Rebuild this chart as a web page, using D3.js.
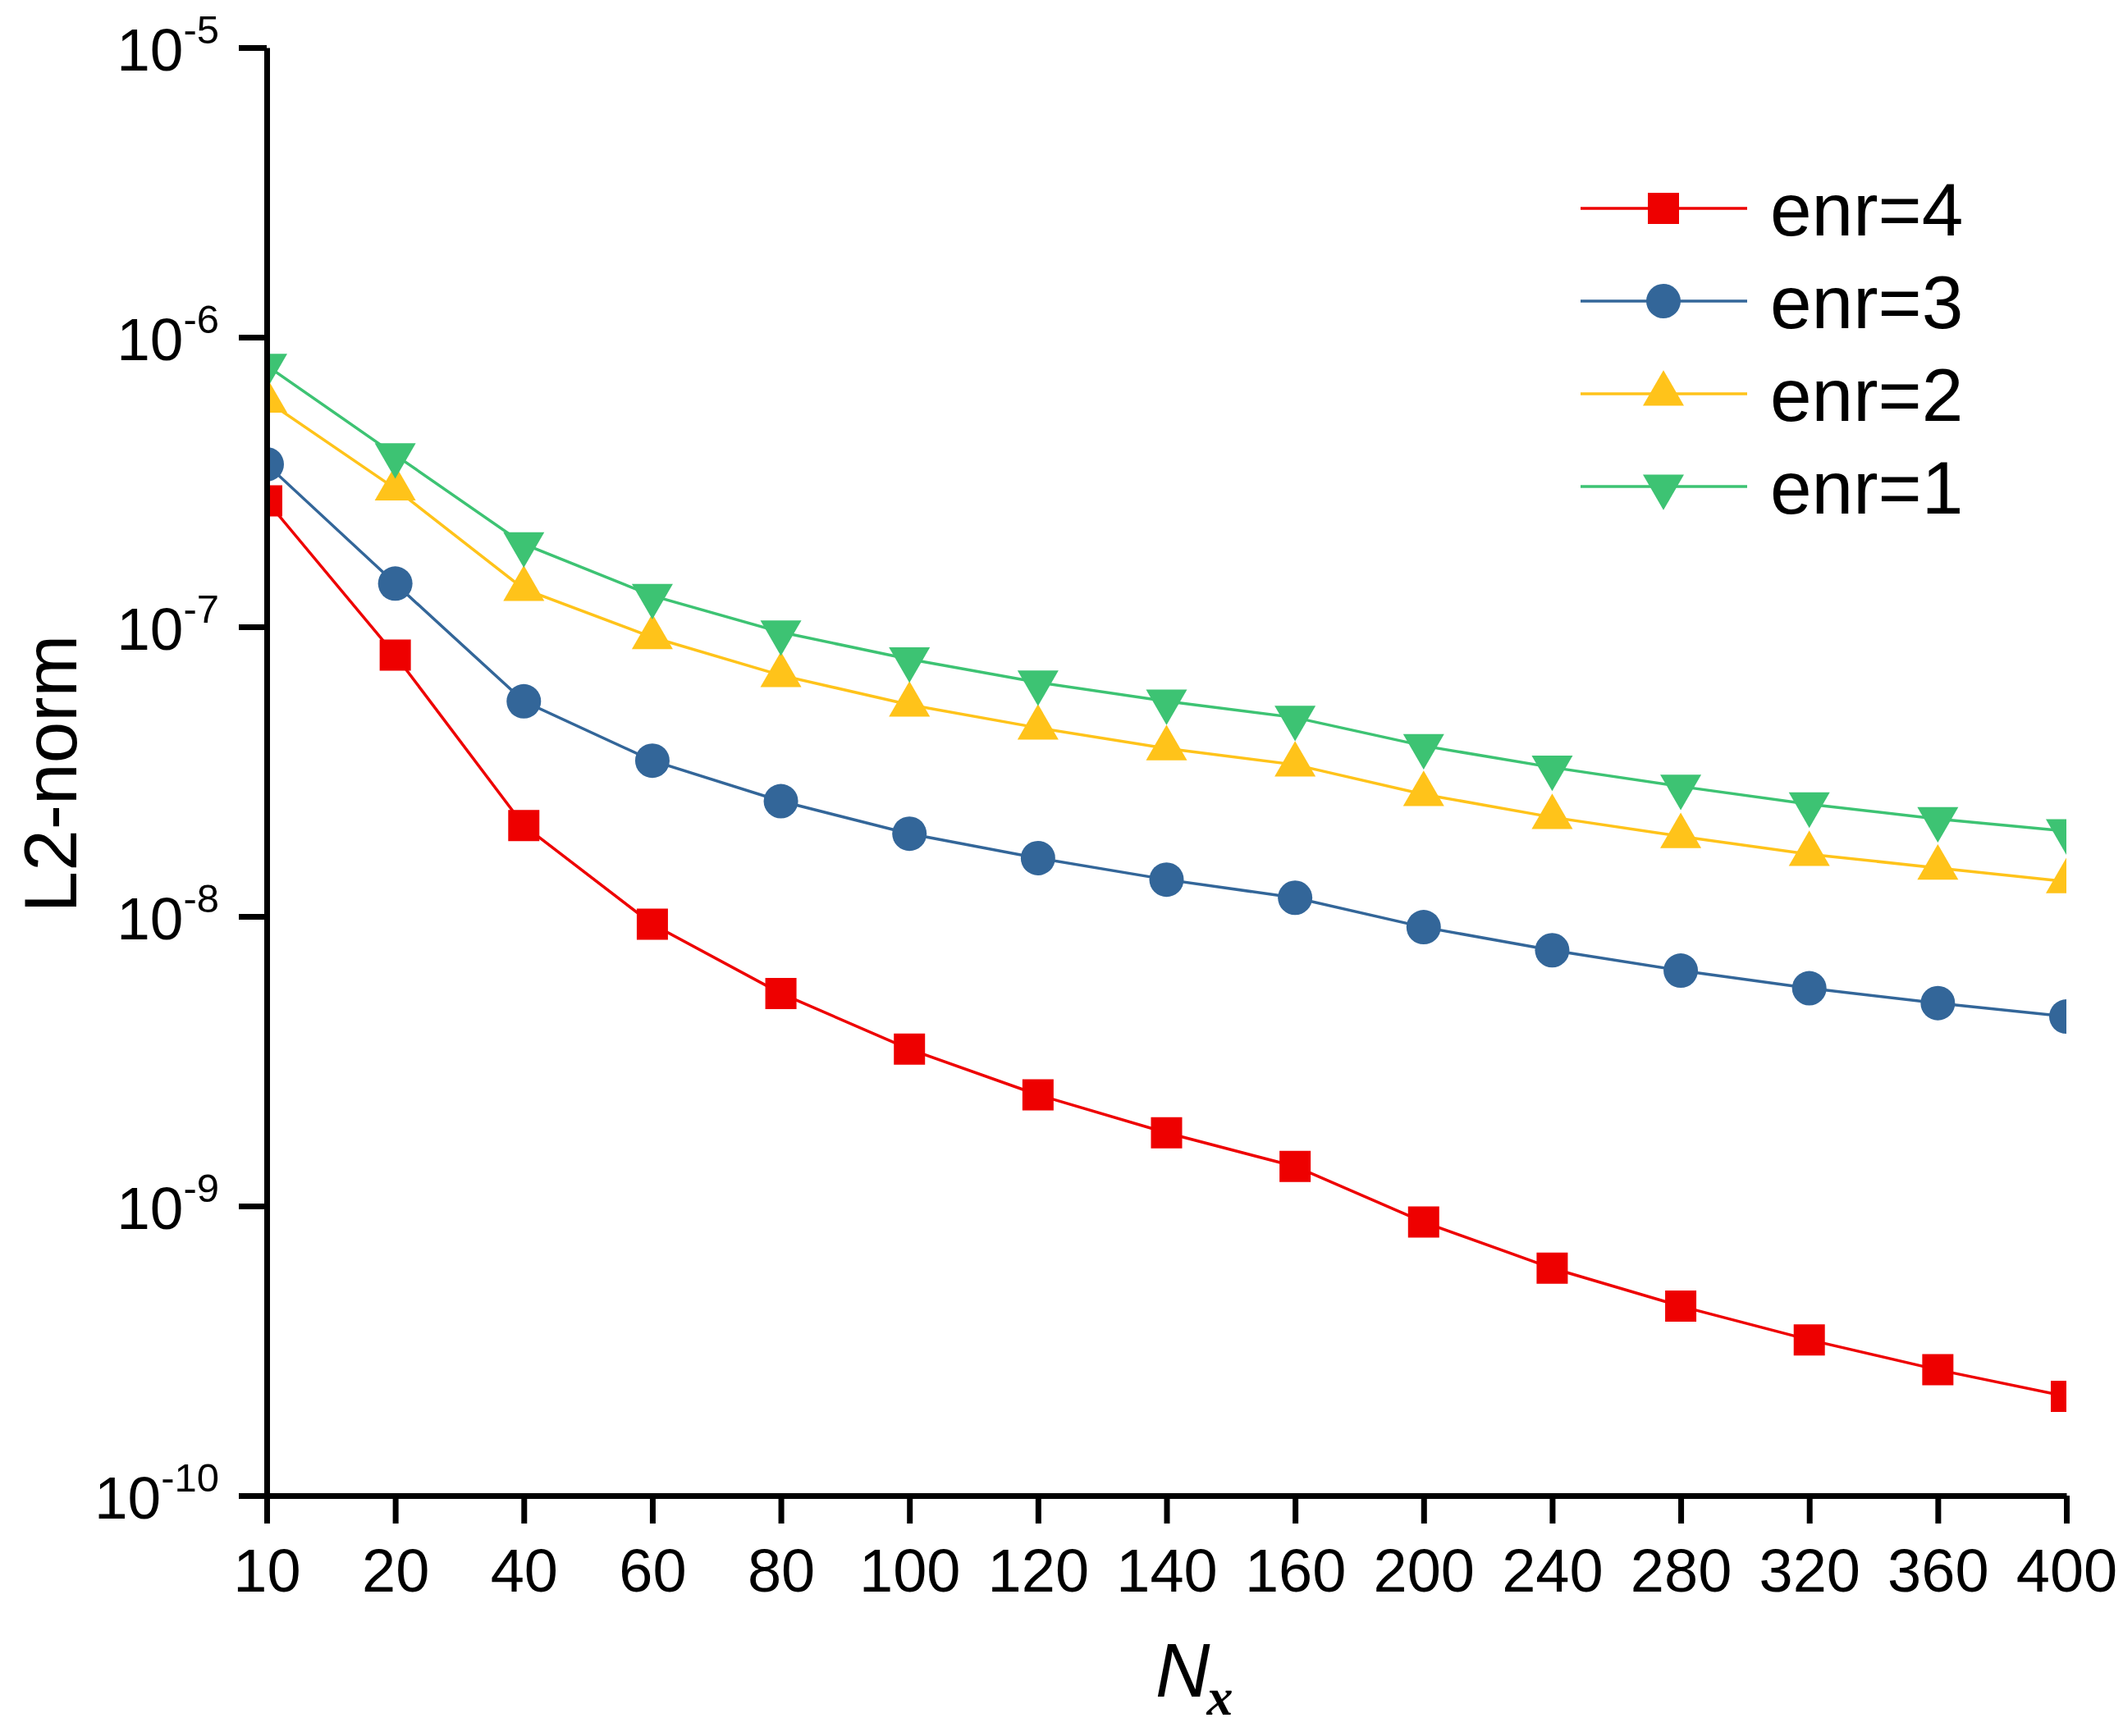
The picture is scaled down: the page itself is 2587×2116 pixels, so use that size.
<!DOCTYPE html>
<html>
<head>
<meta charset="utf-8">
<script src="https://cdn.jsdelivr.net/npm/d3@7/dist/d3.min.js"></script>
<style>
  body { margin: 0; background: #fff; }
  text { font-family: Arial, "Liberation Sans", sans-serif; fill: #000; }
</style>
</head>
<body>
<svg id="chart"></svg>
<script>
// Grid sizes along x (categorical, evenly spaced)
const nx = ["10", "20", "40", "60", "80", "100", "120", "140", "160", "200", "240", "280", "320", "360", "400"];

// L2-norm per scheme
const enr4 = [2.72e-7, 7.98e-8, 2.06e-8, 9.4e-9, 5.42e-9, 3.48e-9, 2.42e-9, 1.79e-9, 1.37e-9, 8.8e-10, 6.1e-10, 4.51e-10, 3.45e-10, 2.72e-10, 2.2e-10];
const enr3 = [3.64e-7, 1.41e-7, 5.53e-8, 3.45e-8, 2.5e-8, 1.93e-8, 1.59e-8, 1.34e-8, 1.16e-8, 9.18e-9, 7.64e-9, 6.5e-9, 5.65e-9, 5.02e-9, 4.51e-9];
const enr2 = [6.03e-7, 3.0e-7, 1.35e-7, 9.2e-8, 6.8e-8, 5.38e-8, 4.48e-8, 3.8e-8, 3.34e-8, 2.64e-8, 2.2e-8, 1.89e-8, 1.64e-8, 1.47e-8, 1.32e-8];
const enr1 = [7.98e-7, 3.92e-7, 1.93e-7, 1.28e-7, 9.58e-8, 7.73e-8, 6.43e-8, 5.53e-8, 4.86e-8, 3.88e-8, 3.27e-8, 2.81e-8, 2.44e-8, 2.17e-8, 1.97e-8];

const seriesNames = ["enr=4", "enr=3", "enr=2", "enr=1"];
const yTickExponents = [-5, -6, -7, -8, -9, -10];

const width = 2587, height = 2116;
const plotLeft = 325, plotRight = 2518, plotTop = 58, plotBottom = 1823;

const series = [
  { name: seriesNames[0], values: enr4, color: "#ee0000", symbol: d3.symbolSquare, size: 1444, rot: 0 },
  { name: seriesNames[1], values: enr3, color: "#336699", symbol: d3.symbolCircle, size: 1385, rot: 0 },
  { name: seriesNames[2], values: enr2, color: "#ffc31a", symbol: d3.symbolTriangle, size: 1083, rot: 0 },
  { name: seriesNames[3], values: enr1, color: "#3dc373", symbol: d3.symbolTriangle, size: 1083, rot: 180 },
];

const svg = d3.select("#chart")
  .attr("width", width)
  .attr("height", height)
  .attr("viewBox", `0 0 ${width} ${height}`);

svg.append("rect").attr("width", width).attr("height", height).attr("fill", "#fff");

const x = d3.scalePoint().domain(nx).range([plotLeft, plotRight]);
const y = d3.scaleLog().domain([1e-10, 1e-5]).range([plotBottom, plotTop]);

svg.append("defs").append("clipPath")
  .attr("id", "plot-clip")
  .append("rect")
  .attr("x", plotLeft).attr("y", plotTop - 40)
  .attr("width", plotRight - plotLeft).attr("height", plotBottom - plotTop + 40);

const plot = svg.append("g").attr("clip-path", "url(#plot-clip)");

const line = d3.line()
  .x((d, i) => x(nx[i]))
  .y((d) => y(d));

// lines first, markers on top
plot.selectAll("path.series-line")
  .data(series)
  .enter()
  .append("path")
  .attr("class", "series-line")
  .attr("fill", "none")
  .attr("stroke", (s) => s.color)
  .attr("stroke-width", 3.5)
  .attr("d", (s) => line(s.values));

series.forEach((s) => {
  const sym = d3.symbol().type(s.symbol).size(s.size);
  plot.append("g")
    .selectAll("path")
    .data(s.values)
    .enter()
    .append("path")
    .attr("d", sym)
    .attr("fill", s.color)
    .attr("transform", (d, i) => `translate(${x(nx[i])},${y(d)}) rotate(${s.rot})`);
});

// Axes
const yAxis = d3.axisLeft(y)
  .tickValues(yTickExponents.map((e) => Math.pow(10, e)))
  .tickSize(34)
  .tickSizeOuter(0)
  .tickPadding(0);

const gy = svg.append("g")
  .attr("transform", `translate(${plotLeft},0)`)
  .call(yAxis);

const xAxis = d3.axisBottom(x)
  .tickSize(34)
  .tickSizeOuter(0);

const gx = svg.append("g")
  .attr("transform", `translate(0,${plotBottom})`)
  .call(xAxis);

[gx, gy].forEach((g) => {
  g.select(".domain").attr("stroke", "#000").attr("stroke-width", 7);
  g.selectAll(".tick line").attr("stroke", "#000").attr("stroke-width", 7);
});

gx.selectAll(".tick text")
  .attr("y", 117)
  .attr("dy", 0)
  .attr("font-size", 74);

gy.selectAll(".tick text").each(function (d) {
  const t = d3.select(this);
  const exp = Math.round(Math.log10(d));
  t.text(null)
    .attr("x", -58)
    .attr("dy", 27)
    .attr("text-anchor", "end")
    .attr("font-size", 73);
  t.append("tspan").text("10");
  t.append("tspan").attr("dy", -33).attr("font-size", 49).text(String(exp));
});

// Axis titles
svg.append("text")
  .attr("transform", `translate(93,943) rotate(-90)`)
  .attr("text-anchor", "middle")
  .attr("font-size", 91)
  .text("L2-norm");

// N in sans italic, subscript x in serif bold italic
const xt = svg.append("text")
  .attr("x", 1408)
  .attr("y", 2068)
  .style("font-style", "italic")
  .attr("font-size", 92);
xt.append("tspan").text("N");
xt.append("tspan")
  .attr("dx", -4)
  .attr("dy", 22)
  .attr("font-size", 64)
  .style("font-family", "'Liberation Serif', 'Times New Roman', serif")
  .style("font-weight", "bold")
  .text("x");

// Legend
const legend = svg.append("g");
const rows = legend.selectAll("g")
  .data(series)
  .enter()
  .append("g")
  .attr("transform", (s, i) => `translate(0,${254 + i * 113})`);

rows.append("line")
  .attr("x1", 1926).attr("x2", 2129)
  .attr("stroke", (s) => s.color)
  .attr("stroke-width", 3.5);

rows.append("path")
  .attr("d", (s) => d3.symbol().type(s.symbol).size(s.size)())
  .attr("fill", (s) => s.color)
  .attr("transform", (s) => `translate(2027,0) rotate(${s.rot})`);

rows.append("text")
  .attr("x", 2157)
  .attr("y", 33)
  .attr("font-size", 91)
  .text((s) => s.name);
</script>
</body>
</html>
